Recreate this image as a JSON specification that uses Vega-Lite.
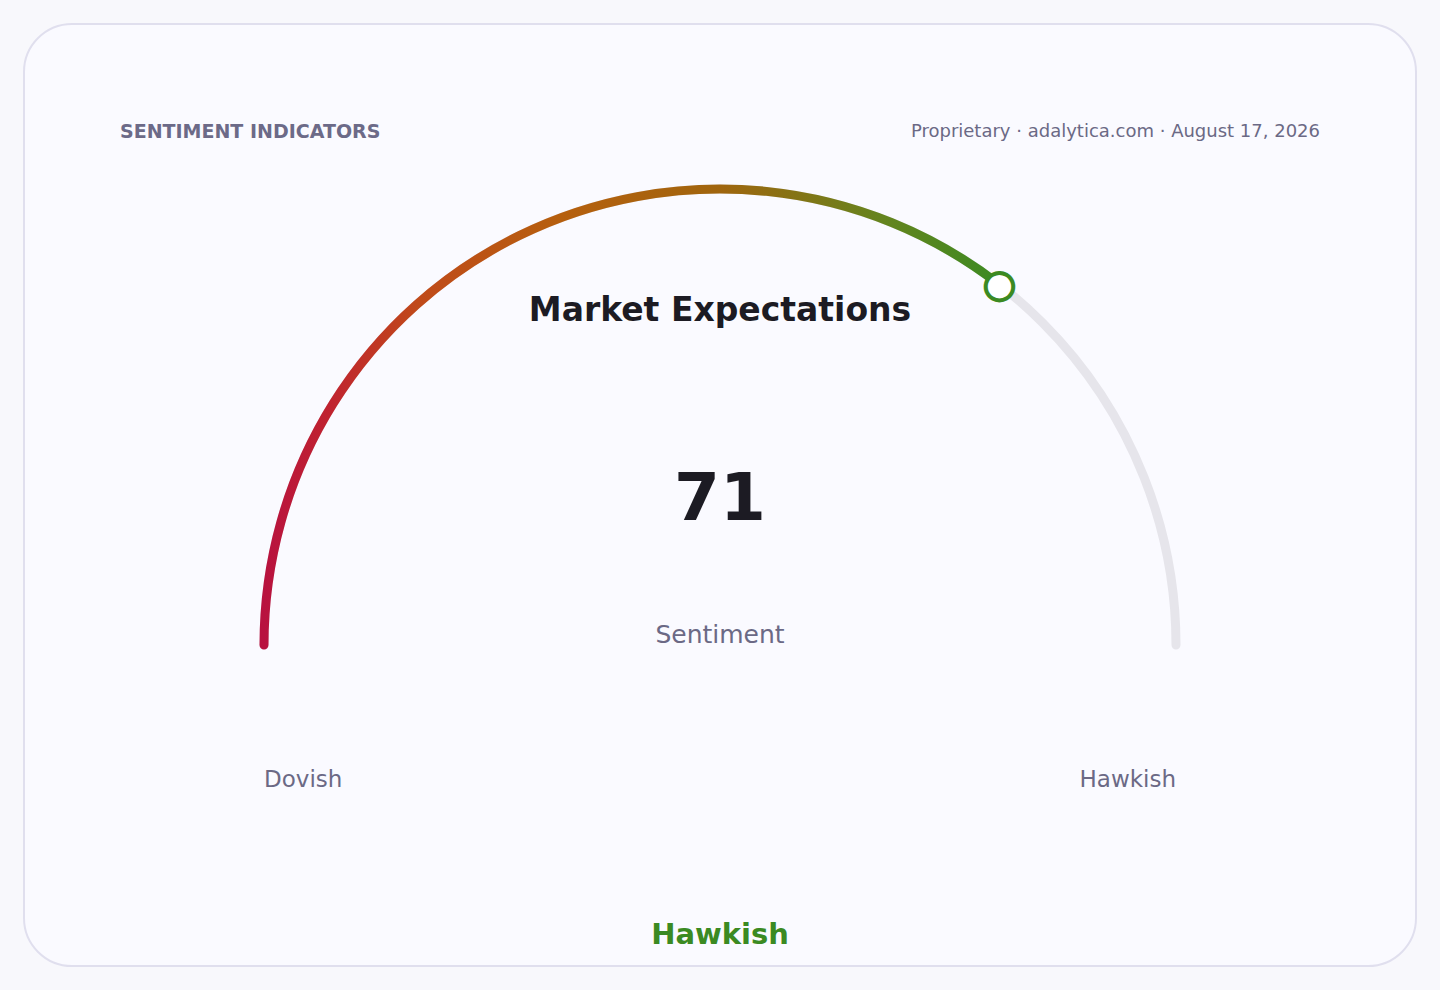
{
  "$schema": "https://vega.github.io/schema/vega-lite/v6.json",
  "width": 1440,
  "height": 990,
  "autosize": {"type": "fit", "contains": "padding"},
  "padding": 24,
  "background": "#f8f8fc",
  "config": {
    "view": {"fill": "#fafaff", "stroke": "#e0dfee", "strokeWidth": 2, "cornerRadius": 48},
    "font": "DejaVu Sans",
    "text": {"font": "DejaVu Sans"}
  },
  "data": {
    "values": [
      {
        "section": "SENTIMENT INDICATORS",
        "source": "Proprietary · adalytica.com · August 17, 2026",
        "metric": "Market Expectations",
        "measure": "Sentiment",
        "score": 71,
        "low": 0,
        "high": 100,
        "lowLabel": "Dovish",
        "highLabel": "Hawkish",
        "reading": "Hawkish"
      }
    ]
  },
  "encoding": {
    "x": {"datum": 0, "type": "quantitative", "scale": {"domain": [-1.5263, 1.5263], "nice": false, "zero": false}, "axis": null},
    "y": {"datum": 0, "type": "quantitative", "scale": {"domain": [-0.7039, 1.3618], "nice": false, "zero": false}, "axis": null}
  },
  "layer": [
    {
      "mark": {"type": "arc", "filled": false, "radius": 456, "radius2": 456, "stroke": "#e6e5eb", "strokeWidth": 9, "strokeJoin": "round"},
      "encoding": {
        "theta": {"field": "low", "type": "quantitative", "stack": null, "scale": {"domain": [0, 100], "range": [-1.5707963, 1.5707963]}},
        "theta2": {"field": "high"}
      }
    },
    {
      "mark": {
        "type": "arc", "filled": false, "radius": 456, "radius2": 456, "strokeWidth": 9, "strokeJoin": "round",
        "stroke": {
          "gradient": "linear", "x1": 0, "y1": 0, "x2": 1, "y2": 0,
          "stops": [
            {"offset": 0, "color": "#b8123f"},
            {"offset": 0.09, "color": "#c0232f"},
            {"offset": 0.21, "color": "#c04a1a"},
            {"offset": 0.4, "color": "#b65f0e"},
            {"offset": 0.62, "color": "#a0650e"},
            {"offset": 0.84, "color": "#65841e"},
            {"offset": 1, "color": "#3b8a22"}
          ]
        }
      },
      "encoding": {
        "theta": {"field": "low", "type": "quantitative", "stack": null},
        "theta2": {"field": "score"}
      }
    },
    {
      "mark": {"type": "text", "text": "●", "radius": 456, "fontSize": 36, "fill": "#ffffff", "stroke": "#3b8a22", "strokeWidth": 4, "align": "center", "baseline": "middle"},
      "encoding": {
        "theta": {"field": "score", "type": "quantitative", "stack": null}
      }
    },
    {
      "mark": {"type": "text", "align": "left", "baseline": "middle", "fontSize": 19, "fontWeight": "bold", "color": "#6c6a88", "letterSpacing": 1},
      "encoding": {"x": {"datum": -1.3158}, "y": {"datum": 1.125}, "text": {"field": "section"}}
    },
    {
      "mark": {"type": "text", "align": "right", "baseline": "middle", "fontSize": 18, "color": "#6b6985"},
      "encoding": {"x": {"datum": 1.3158}, "y": {"datum": 1.125}, "text": {"field": "source"}}
    },
    {
      "mark": {"type": "text", "align": "center", "baseline": "middle", "fontSize": 33, "fontWeight": "bold", "color": "#1c1b23"},
      "encoding": {"y": {"datum": 0.7324}, "text": {"field": "metric"}}
    },
    {
      "mark": {"type": "text", "align": "center", "baseline": "middle", "fontSize": 66, "fontWeight": "bold", "color": "#1c1b23"},
      "encoding": {"y": {"datum": 0.318}, "text": {"field": "score"}}
    },
    {
      "mark": {"type": "text", "align": "center", "baseline": "middle", "fontSize": 25, "color": "#6b6985"},
      "encoding": {"y": {"datum": 0.0219}, "text": {"field": "measure"}}
    },
    {
      "mark": {"type": "text", "align": "left", "baseline": "middle", "fontSize": 23, "color": "#6b6985"},
      "encoding": {"x": {"datum": -1}, "y": {"datum": -0.2961}, "text": {"field": "lowLabel"}}
    },
    {
      "mark": {"type": "text", "align": "right", "baseline": "middle", "fontSize": 23, "color": "#6b6985"},
      "encoding": {"x": {"datum": 1}, "y": {"datum": -0.2961}, "text": {"field": "highLabel"}}
    },
    {
      "mark": {"type": "text", "align": "center", "baseline": "middle", "fontSize": 29, "fontWeight": "bold", "color": "#3b8a22"},
      "encoding": {"y": {"datum": -0.636}, "text": {"field": "reading"}}
    }
  ]
}
